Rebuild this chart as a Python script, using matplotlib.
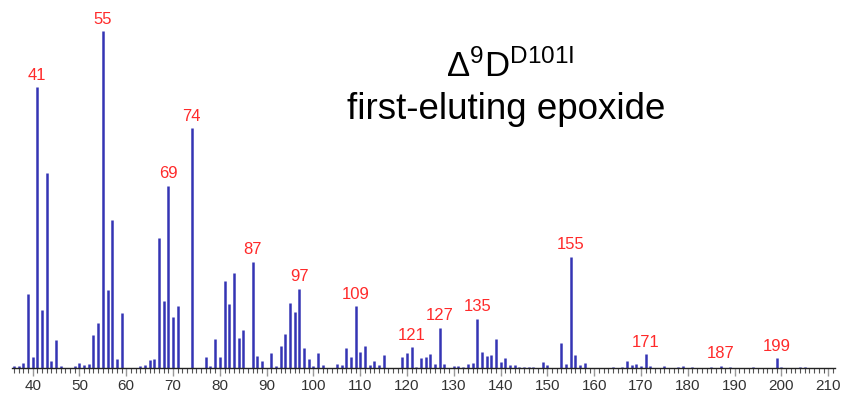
import matplotlib
matplotlib.use("Agg")
import matplotlib.pyplot as plt
from matplotlib.ticker import MultipleLocator

plt.rcParams['font.family'] = ['Liberation Sans', 'DejaVu Sans']
plt.rcParams['mathtext.fontset'] = 'custom'
plt.rcParams['mathtext.rm'] = 'Liberation Sans'
plt.rcParams['mathtext.it'] = 'Liberation Sans'

mz = [36, 37, 38, 39, 40, 41, 42, 43, 44, 45, 46, 49, 50, 51, 52, 53, 54, 55, 56, 57,
      58, 59, 63, 64, 65, 66, 67, 68, 69, 70, 71, 74, 77, 78, 79, 80, 81, 82, 83, 84,
      85, 87, 88, 89, 91, 92, 93, 94, 95, 96, 97, 98, 99, 100, 101, 102, 105, 106, 107, 108,
      109, 110, 111, 112, 113, 114, 115, 119, 120, 121, 122, 123, 124, 125, 126, 127, 128, 130, 131, 132,
      133, 134, 135, 136, 137, 138, 139, 140, 141, 142, 143, 144, 145, 146, 147, 149, 150, 153, 154, 155,
      156, 157, 158, 164, 166, 167, 168, 169, 170, 171, 172, 175, 178, 179, 181, 185, 187, 189, 194, 199,
      200, 204, 205]
intensity = [0.5, 0.7, 1.5, 22.0, 3.3, 83.5, 17.3, 58.0, 2.0, 8.4, 0.7, 0.5, 1.6, 0.9, 1.3, 9.9, 13.5, 100.0, 23.2, 44.0,
             2.8, 16.4, 0.5, 0.9, 2.4, 2.8, 38.7, 19.9, 54.2, 15.1, 18.5, 71.3, 3.4, 0.7, 8.5, 3.4, 25.8, 18.9, 28.2, 9.0,
             11.4, 31.6, 3.5, 2.1, 4.5, 0.7, 6.6, 10.2, 19.3, 16.5, 23.6, 6.0, 2.6, 0.7, 4.5, 0.9, 1.3, 1.0, 6.0, 3.3,
             18.4, 4.8, 6.4, 0.9, 2.1, 0.8, 4.0, 3.3, 4.4, 6.2, 0.4, 3.1, 3.3, 4.3, 1.2, 12.0, 1.2, 0.6, 0.6, 0.4,
             1.2, 1.6, 14.7, 4.8, 3.5, 3.9, 8.6, 1.7, 3.1, 0.9, 0.9, 0.4, 0.4, 0.4, 0.4, 1.8, 0.9, 7.4, 1.2, 33.1,
             3.9, 0.9, 1.4, 0.4, 0.4, 2.2, 0.8, 1.2, 0.7, 4.1, 0.5, 0.5, 0.4, 0.5, 0.4, 0.4, 0.7, 0.4, 0.4, 3.0,
             0.4, 0.4, 0.4]
labeled = [41, 55, 69, 74, 87, 97, 109, 121, 127, 135, 155, 171, 187, 199]
xticks = list(range(40, 211, 10))

fig = plt.figure(figsize=(8.43, 3.96), dpi=100)
ax = fig.add_axes([11.6 / 843, 28 / 396, 823.6 / 843, 368 / 396])
ax.vlines(mz, 0, intensity, colors='#3434b4', linewidth=1.8)

lookup = dict(zip(mz, intensity))
for m in labeled:
    ax.annotate(str(m), (m, lookup[m]), xytext=(0, 3), textcoords='offset points',
                ha='center', va='bottom', color='#ff2a2a', fontsize=12)

ax.set_xlim(35.5, 211.5)
ax.set_ylim(0, 109.3)
for s in ['top', 'right', 'left']:
    ax.spines[s].set_visible(False)
ax.spines['bottom'].set_color('#222222')
ax.spines['bottom'].set_linewidth(1.0)
ax.set_yticks([])
ax.set_xticks(xticks)
ax.xaxis.set_minor_locator(MultipleLocator(1))
ax.tick_params(axis='x', which='major', length=6, width=1.0, color='#999999',
               labelsize=11, labelcolor='#333333', pad=2)
ax.tick_params(axis='x', which='minor', length=3.5, width=0.8, color='#555555')

fig.text(510 / 843, 1 - 77 / 396, r'$\Delta^{9}\mathrm{D}^{\mathrm{D101I}}$', ha='center',
         va='baseline', fontsize=25, color='black')
fig.text(506 / 843, 1 - 119 / 396, 'first-eluting epoxide', ha='center', va='baseline',
         fontsize=26.5, color='black')

fig.savefig('out.png', dpi=100)
